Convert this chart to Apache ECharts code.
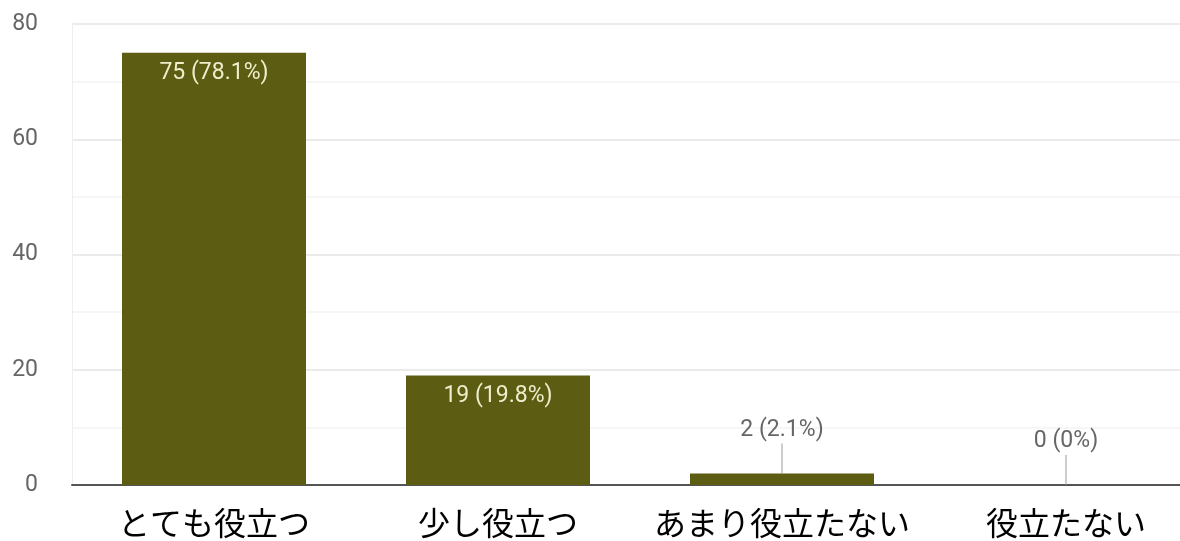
<!DOCTYPE html>
<html><head><meta charset="utf-8">
<script src="https://cdn.jsdelivr.net/npm/echarts@6/dist/echarts.min.js"></script>
<style>html,body{margin:0;padding:0;background:#fff}#c{width:1180px;height:541px}</style>
</head><body><div id="c"></div>
<script>
const categories = ['とても役立つ', '少し役立つ', 'あまり役立たない', '役立たない'];
const counts = [75, 19, 2, 0];
const percents = ['78.1%', '19.8%', '2.1%', '0%'];
const yTicks = [0, 20, 40, 60, 80];

const barColor = '#5c5c12';
const numFont = 'Roboto, sans-serif';

const data = counts.map((v, i) => {
  const inside = v >= 10;
  return {
    value: v,
    label: inside ? {
      show: true, position: 'insideTop', distance: 9,
      color: '#eeeecc', fontSize: 23, fontFamily: numFont,
      formatter: () => counts[i] + ' (' + percents[i] + ')'
    } : {
      show: true, position: 'top', distance: 32,
      color: '#666', fontSize: 23, fontFamily: numFont,
      formatter: () => counts[i] + ' (' + percents[i] + ')'
    }
  };
});

const chart = echarts.init(document.getElementById('c'), null, {renderer: 'canvas'});
chart.setOption({
  animation: false,
  grid: {left: 72, width: 1136, top: 24, bottom: 56, containLabel: false, outerBoundsMode: 'none'},
  xAxis: {
    type: 'category', data: categories,
    axisLine: {lineStyle: {color: '#555', width: 2}},
    axisTick: {show: false},
    axisLabel: {color: '#000', fontSize: 32, margin: 22, fontFamily: '"Noto Sans CJK JP", sans-serif', interval: 0, hideOverlap: false}
  },
  yAxis: {
    type: 'value', min: yTicks[0], max: yTicks[yTicks.length - 1], interval: 20,
    axisLine: {show: true, lineStyle: {color: '#eeeeee'}},
    axisTick: {show: false},
    axisLabel: {color: '#666', fontSize: 23, margin: 34, fontFamily: numFont},
    splitLine: {lineStyle: {color: '#e4e4e4', width: 1.5}},
    minorTick: {show: false, splitNumber: 2},
    minorSplitLine: {show: true, lineStyle: {color: '#f3f3f3', width: 1.5}}
  },
  series: [{
    type: 'bar', data: data, barWidth: 184,
    itemStyle: {color: barColor}
  }, {
    type: 'custom',
    silent: true,
    data: counts.map((v, i) => [i, v]),
    renderItem: function (params, api) {
      const v = api.value(1);
      if (v >= 10) return null;
      const p = api.coord([api.value(0), v]);
      return {type: 'line', shape: {x1: p[0], y1: p[1], x2: p[0], y2: p[1] - 30},
        style: {stroke: '#999', lineWidth: 1}};
    }
  }]
});
</script></body></html>
